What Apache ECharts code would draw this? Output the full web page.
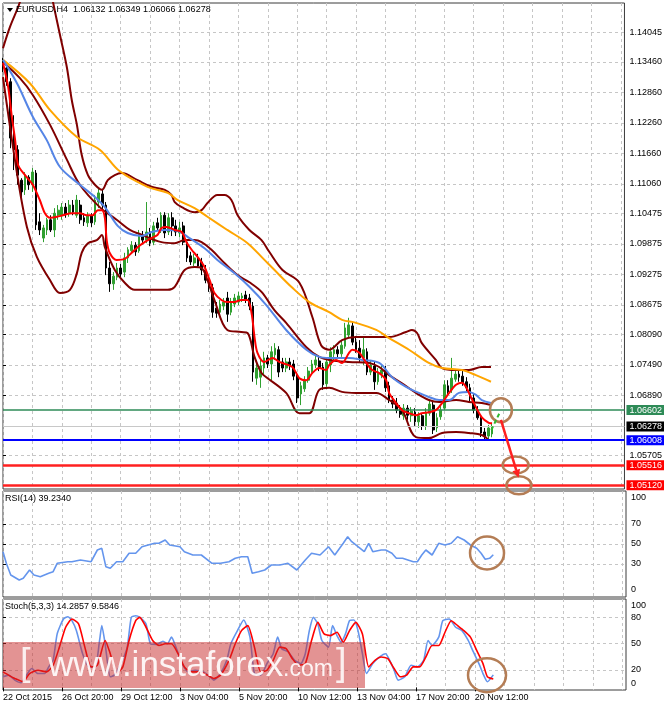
<!DOCTYPE html>
<html>
<head>
<meta charset="utf-8">
<script src="https://cdn.jsdelivr.net/npm/echarts@6.0.0/dist/echarts.min.js"></script>
<style>
  html, body { margin: 0; padding: 0; background: #fff; }
  #main { width: 665px; height: 705px; }
</style>
</head>
<body>
<div id="main"></div>
<script>
// H4 bars, 22 Oct 2015 04:00 onwards  [open, close, low, high]
var candles = [
  [1.1346,1.1334,1.1326,1.1354],[1.1334,1.1307,1.1299,1.1340],[1.1307,1.1196,1.1176,1.1314],[1.1196,1.1173,1.1133,1.1241],
  [1.1173,1.1123,1.1104,1.1182],[1.1113,1.1090,1.1070,1.1117],[1.1094,1.1123,1.1084,1.1129],[1.1119,1.1104,1.1094,1.1123],
  [1.1104,1.1129,1.1090,1.1137],[1.1127,1.1025,1.1015,1.1133],[1.1031,1.1015,1.1005,1.1048],[1.0999,1.1019,1.0991,1.1025],
  [1.1015,1.1035,1.1005,1.1039],[1.1035,1.1015,1.1011,1.1044],[1.1015,1.1048,1.1001,1.1058],[1.1044,1.1054,1.1035,1.1064],
  [1.1043,1.1060,1.1035,1.1068],[1.1060,1.1046,1.1039,1.1068],[1.1048,1.1064,1.1041,1.1074],[1.1064,1.1050,1.1044,1.1074],
  [1.1044,1.1074,1.1039,1.1084],[1.1064,1.1035,1.1027,1.1074],[1.1039,1.1031,1.1023,1.1048],[1.1029,1.1043,1.1021,1.1050],
  [1.1043,1.1029,1.1021,1.1048],[1.1031,1.1074,1.1025,1.1084],[1.1070,1.1088,1.1058,1.1098],[1.1086,1.1064,1.1054,1.1094],
  [1.1064,1.0940,1.0926,1.1070],[1.0940,1.0909,1.0893,1.0952],[1.0909,1.0924,1.0897,1.0932],[1.0922,1.0940,1.0916,1.0950],
  [1.0940,1.0928,1.0920,1.0948],[1.0932,1.0960,1.0922,1.0970],[1.0960,1.0976,1.0950,1.0981],[1.0974,1.0985,1.0968,1.0993],
  [1.0985,1.0972,1.0964,1.0991],[1.0974,1.1005,1.0970,1.1015],[1.1005,1.0995,1.0987,1.1013],[1.0995,1.1011,1.0989,1.1070],
  [1.1011,1.0989,1.0983,1.1019],[1.0991,1.1023,1.0985,1.1031],[1.1029,1.1019,1.1013,1.1039],[1.1015,1.1044,1.1009,1.1050],
  [1.1044,1.1009,1.0999,1.1050],[1.1011,1.1039,1.1005,1.1048],[1.1039,1.1023,1.1003,1.1050],[1.1023,1.1011,1.1003,1.1035],
  [1.1009,1.1019,1.1001,1.1031],[1.1023,1.0991,1.0985,1.1031],[1.0991,1.0960,1.0952,1.0995],[1.0964,1.0952,1.0946,1.0972],
  [1.0950,1.0960,1.0944,1.0968],[1.0960,1.0944,1.0940,1.0968],[1.0952,1.0936,1.0926,1.0960],[1.0936,1.0916,1.0910,1.0946],
  [1.0916,1.0901,1.0893,1.0924],[1.0901,1.0853,1.0842,1.0909],[1.0861,1.0851,1.0842,1.0873],[1.0853,1.0869,1.0847,1.0877],
  [1.0865,1.0873,1.0857,1.0881],[1.0881,1.0849,1.0834,1.0893],[1.0853,1.0873,1.0847,1.0881],[1.0869,1.0881,1.0863,1.0889],
  [1.0873,1.0885,1.0867,1.0893],[1.0881,1.0885,1.0873,1.0891],[1.0887,1.0877,1.0871,1.0895],[1.0881,1.0865,1.0857,1.0889],
  [1.0865,1.0735,1.0716,1.0873],[1.0723,1.0743,1.0710,1.0759],[1.0725,1.0747,1.0704,1.0759],[1.0743,1.0763,1.0731,1.0775],
  [1.0763,1.0751,1.0743,1.0769],[1.0751,1.0775,1.0719,1.0786],[1.0769,1.0782,1.0759,1.0792],[1.0779,1.0735,1.0725,1.0786],
  [1.0755,1.0743,1.0735,1.0763],[1.0743,1.0755,1.0735,1.0763],[1.0755,1.0749,1.0739,1.0763],[1.0751,1.0727,1.0719,1.0759],
  [1.0727,1.0684,1.0674,1.0735],[1.0692,1.0708,1.0670,1.0716],[1.0702,1.0719,1.0696,1.0727],[1.0719,1.0737,1.0714,1.0745],
  [1.0735,1.0751,1.0729,1.0759],[1.0749,1.0759,1.0743,1.0769],[1.0757,1.0743,1.0737,1.0765],[1.0745,1.0710,1.0700,1.0753],
  [1.0712,1.0755,1.0706,1.0763],[1.0749,1.0775,1.0735,1.0784],[1.0771,1.0779,1.0755,1.0788],[1.0779,1.0771,1.0763,1.0786],
  [1.0771,1.0788,1.0765,1.0798],[1.0786,1.0822,1.0781,1.0832],[1.0808,1.0828,1.0802,1.0842],[1.0826,1.0794,1.0788,1.0834],
  [1.0794,1.0779,1.0773,1.0806],[1.0782,1.0763,1.0755,1.0798],[1.0763,1.0779,1.0749,1.0804],[1.0775,1.0735,1.0729,1.0782],
  [1.0735,1.0749,1.0729,1.0759],[1.0747,1.0716,1.0700,1.0755],[1.0716,1.0735,1.0710,1.0743],[1.0731,1.0739,1.0723,1.0749],
  [1.0739,1.0704,1.0696,1.0747],[1.0708,1.0680,1.0674,1.0716],[1.0680,1.0672,1.0664,1.0688],[1.0674,1.0660,1.0654,1.0684],
  [1.0660,1.0652,1.0645,1.0670],[1.0649,1.0664,1.0641,1.0672],[1.0664,1.0650,1.0641,1.0670],[1.0649,1.0658,1.0637,1.0666],
  [1.0656,1.0637,1.0629,1.0664],[1.0637,1.0649,1.0625,1.0656],[1.0649,1.0629,1.0621,1.0654],[1.0629,1.0656,1.0621,1.0664],
  [1.0654,1.0672,1.0649,1.0680],[1.0670,1.0621,1.0613,1.0676],[1.0625,1.0645,1.0617,1.0654],[1.0647,1.0660,1.0641,1.0670],
  [1.0664,1.0710,1.0660,1.0719],[1.0708,1.0696,1.0688,1.0719],[1.0700,1.0723,1.0694,1.0763],[1.0721,1.0731,1.0716,1.0739],
  [1.0731,1.0725,1.0716,1.0739],[1.0727,1.0714,1.0708,1.0739],[1.0716,1.0704,1.0696,1.0725],[1.0704,1.0684,1.0676,1.0712],
  [1.0684,1.0660,1.0654,1.0694],[1.0660,1.0645,1.0641,1.0668],[1.0645,1.0615,1.0607,1.0650],[1.0617,1.0609,1.0601,1.0625],
  [1.0609,1.0625,1.0603,1.0631],[1.06132,1.06278,1.06066,1.06349]
];

// indicator lines, [bar index, value]
var maFast = [[0,1.1344],[1.4,1.1297],[2.4,1.1238],[3.3,1.1192],[4.1,1.1143],[6,1.1123],[8.1,1.1104],[10,1.1074],[11.4,1.1048],[12.8,1.1039],[14.7,1.1041],[16.3,1.1044],[18.7,1.1048],[20.9,1.1048],[22.8,1.1044],[24.4,1.1044],[25.8,1.1054],[26.9,1.1054],[27.7,1.1039],[28.2,1.0995],[29,1.0970],[30.9,1.0956],[33.1,1.0958],[35,1.0970],[36.6,1.0981],[38.5,1.0991],[40.4,1.0999],[42,1.1005],[43.1,1.1019],[44.5,1.1021],[46.7,1.1015],[48.6,1.1011],[49.9,1.0991],[51.3,1.0976],[52.9,1.0962],[54.8,1.0942],[56.2,1.0916],[57.5,1.0891],[59.4,1.0877],[61,1.0873],[62.9,1.0873],[64.8,1.0877],[66.5,1.0877],[67.6,1.0851],[68.4,1.0804],[69.2,1.0773],[71.1,1.0755],[73.3,1.0763],[75.1,1.0755],[78.7,1.0745],[80.6,1.0723],[82.5,1.0719],[84.1,1.0733],[86,1.0743],[87.9,1.0739],[88.7,1.0749],[90.6,1.0759],[92.2,1.0753],[94.1,1.0773],[95,1.0779],[96.9,1.0773],[98.8,1.0753],[100.4,1.0739],[102.3,1.0733],[104.2,1.0719],[105,1.0694],[106.9,1.0674],[108.5,1.0660],[110.4,1.0654],[112.3,1.0650],[113.9,1.0654],[115.8,1.0656],[117.7,1.0660],[119.4,1.0674],[121.3,1.0694],[123.2,1.0710],[124.8,1.0714],[125.9,1.0706],[126.7,1.0694],[128.6,1.0666],[130.2,1.0646],[132.1,1.0635],[133,1.0634]];
var maBlue = [[0,1.1350],[3.8,1.1304],[8.1,1.1238],[11.9,1.1192],[15.5,1.1139],[20.9,1.1104],[25,1.1080],[27.7,1.1060],[31.2,1.1023],[33.9,1.1009],[37.7,1.1003],[40.4,1.1011],[44,1.1015],[47.5,1.1013],[50.7,1.0999],[54.8,1.0979],[58.3,1.0956],[62.9,1.0930],[67,1.0903],[71.6,1.0867],[77,1.0818],[82.5,1.0779],[86,1.0765],[88.7,1.0763],[94.1,1.0763],[97.7,1.0759],[102.3,1.0753],[105.8,1.0725],[109.6,1.0706],[113.1,1.0694],[115.8,1.0686],[118.6,1.0680],[121.3,1.0680],[124,1.0694],[126.7,1.0696],[128.6,1.0690],[130.2,1.0680],[132.7,1.0674]];
var maSlow = [[0,1.1350],[7.3,1.1304],[12.8,1.1251],[20.1,1.1198],[26.3,1.1173],[31.7,1.1131],[39.3,1.1100],[44.8,1.1088],[47.5,1.1074],[52.1,1.1058],[55.6,1.1041],[61,1.1015],[66.5,1.0989],[71.1,1.0956],[73.3,1.0940],[78.7,1.0901],[83.3,1.0873],[88.7,1.0853],[92.2,1.0838],[96,1.0832],[101.5,1.0818],[105,1.0802],[110.4,1.0779],[115.8,1.0753],[119.4,1.0743],[124.8,1.0739],[128.6,1.0729],[132.7,1.0716]];
var bbUp = [[0,1.1373],[1.9,1.1415],[4.6,1.1464],[7.3,1.1537],[9.5,1.1563],[11.7,1.1537],[13.6,1.1464],[15.5,1.1399],[17.4,1.1334],[18.7,1.1271],[20.1,1.1222],[21.4,1.1163],[23.1,1.1123],[25,1.1104],[26.9,1.1094],[28.5,1.1113],[30.4,1.1123],[32.3,1.1127],[36.6,1.1113],[40.4,1.1100],[44,1.1094],[45.8,1.1084],[46.7,1.1070],[48.6,1.1060],[52.1,1.1050],[54,1.1054],[55.6,1.1068],[58.3,1.1084],[60.2,1.1084],[62.1,1.1074],[63.8,1.1044],[67,1.1015],[70.3,1.0995],[72.4,1.0972],[76,1.0936],[80.6,1.0911],[84.1,1.0844],[86.5,1.0788],[88.7,1.0779],[92.2,1.0798],[96,1.0804],[105,1.0804],[109.6,1.0814],[111.2,1.0818],[112.6,1.0812],[113.9,1.0792],[117.7,1.0759],[119.4,1.0743],[123.2,1.0739],[126.7,1.0739],[130.2,1.0745],[132.7,1.0745]];
var bbMid = [[0,1.1346],[4.6,1.1314],[8.1,1.1281],[12.8,1.1222],[17.4,1.1153],[20.9,1.1104],[26.3,1.1060],[30.9,1.1035],[34.5,1.1015],[37.2,1.1007],[43.1,1.0991],[46.7,1.0989],[49.4,1.0995],[52.1,1.0995],[54,1.0991],[56.7,1.0976],[60.2,1.0950],[63.8,1.0926],[67,1.0912],[70.3,1.0893],[73.8,1.0857],[77,1.0832],[82.5,1.0784],[86,1.0765],[88.7,1.0759],[94.1,1.0755],[99.6,1.0753],[102.3,1.0745],[105,1.0729],[108.5,1.0713],[112.3,1.0694],[115.8,1.0680],[118.6,1.0676],[123.2,1.0680],[126.7,1.0676],[130.2,1.0674],[132.7,1.0670]];
var bbLow = [[0,1.1316],[3.8,1.1127],[6.5,1.1021],[9.2,1.0962],[12.8,1.0916],[15.5,1.0891],[18.2,1.0897],[20.1,1.0930],[21.4,1.0970],[23.1,1.0989],[25.5,1.0995],[26.9,1.1005],[27.7,1.0981],[30.4,1.0936],[33.1,1.0911],[35.8,1.0897],[44.8,1.0897],[46.7,1.0903],[49.4,1.0936],[52.1,1.0942],[54,1.0940],[55.6,1.0916],[57.5,1.0877],[61,1.0818],[64.8,1.0814],[66.5,1.0812],[68.4,1.0765],[70.3,1.0733],[71.6,1.0725],[77,1.0694],[80.6,1.0654],[83.3,1.0654],[86,1.0700],[88.7,1.0704],[92.2,1.0696],[96,1.0694],[101.5,1.0694],[105,1.0680],[108.5,1.0660],[112.3,1.0607],[115.8,1.0605],[119.4,1.0615],[123.2,1.0617],[126.7,1.0615],[130.2,1.0611],[132.1,1.0601]];

var rsi = [[0,42.3],[0.9,30.7],[2.1,19],[4.4,14],[5.5,15.7],[7.2,24],[8.4,19],[10.1,17.3],[12.4,20.7],[13.6,22.3],[14.7,30.7],[17.6,32.3],[18.7,32.3],[21,34],[23.9,32.3],[25.6,44],[26.8,45.7],[27.9,27.3],[29.1,25.7],[30.8,32.3],[32.5,32.3],[34.2,40.7],[36,40.7],[37.7,47.3],[39.4,49],[41.1,50.7],[42.3,50.7],[44,54],[45.2,49],[48,47.3],[49.2,42.3],[51.5,39],[53.8,39],[56.7,30.7],[59,30.7],[61.3,32.3],[63,35.7],[64.7,37.3],[66.4,37.3],[67.6,20.7],[69.3,22.3],[71,24],[72.8,29],[75.1,29],[77.3,30.7],[79.7,24],[82,34],[83.7,40.7],[86,39],[88.3,47.3],[90,39],[92.3,50.7],[93.5,57.3],[94.6,52.3],[96.9,45.7],[98,42.3],[99.2,50.7],[100.3,42.3],[102.6,44],[103.8,44],[105.5,40.7],[106.7,35.7],[108.4,35.7],[111.3,32.3],[112.4,32.3],[113.6,39],[114.7,44],[116.4,39],[118.2,50.7],[119.9,49],[121.6,50.7],[123.3,57.3],[125.1,54],[126.8,49],[128.5,45.7],[129.7,40.7],[130.8,34.7],[132,35.7],[133,39.2340]];
var stochK = [[0,12.1],[1.5,14],[3.2,8.3],[4.9,5.3],[6.1,12.1],[7.8,21.5],[9.5,15.8],[11.3,15.8],[12.4,23.4],[13.6,30.9],[14.7,61.1],[16.4,78.1],[17.6,80.8],[18.7,76.2],[19.9,64.9],[21.6,38.5],[23.3,23.4],[25,23.4],[26.2,53.6],[26.8,70.6],[27.7,49.8],[29.1,12.1],[30.2,14],[32,27.2],[33.7,46],[34.8,80],[36,81.9],[37.1,80],[38.8,72.5],[40,49.8],[41.7,49.1],[43.4,52.8],[44.6,49.8],[45.7,57.4],[46.9,46],[48.6,27.2],[50.3,17.7],[52.1,19.6],[54.4,17.7],[56.1,12.1],[57.2,8.3],[59,15.8],[60.7,30.9],[61.8,49.8],[63.6,64.9],[65.3,77],[67,57.4],[68.2,15.8],[69.9,14],[71.6,27.2],[73.3,38.5],[74.5,57.4],[75.6,44.2],[77.4,40.4],[79.1,30.9],[80.8,27.2],[82,38.5],[83.1,64.9],[84.2,80],[85.4,72.5],[86.5,53.6],[88.3,46],[89.4,70.6],[90.6,59.2],[91.7,51.7],[92.9,61.1],[94,76.2],[95.2,77],[96.3,64.9],[97.5,38.5],[98.6,15.8],[100.3,27.2],[102.1,34.7],[103.8,38.5],[104.9,30.9],[106.1,19.6],[107.2,8.3],[109,12.1],[110.7,25.3],[112.4,23.4],[114.1,30.9],[115.3,53.6],[116.4,47.9],[118.2,57.4],[119.3,76.2],[121,78.1],[122.8,68.7],[124.5,64.9],[126.2,53.6],[127.4,42.3],[129.1,27.2],[130.2,15.8],[131.4,6.4],[133,14.2857]];
var stochD = [[0,17.7],[1.5,14],[3.2,10.2],[5.5,6.4],[7.2,15.8],[9.5,19.6],[11.8,17.7],[13.6,25.3],[15.3,46],[17,68.7],[18.7,78.1],[20.5,72.5],[22.2,46],[23.9,23.4],[25.6,25.3],[27.7,53.6],[29.1,38.5],[30.8,15.8],[32.5,23.4],[34.2,53.6],[36,76.2],[37.1,80],[38.8,68.7],[40.6,53.6],[42.3,47.9],[44,49.8],[45.7,49.8],[47.5,38.5],[49.2,23.4],[50.9,17.7],[53.2,17.7],[55.5,14],[57.2,10.2],[59,14],[61.3,30.9],[63,49.8],[64.7,64.9],[66.4,70.6],[68.2,46],[69.9,17.7],[71.6,19.6],[73.3,30.9],[75.1,46],[76.8,44.2],[78.5,32.8],[80.2,25.3],[82,27.2],[83.7,53.6],[85.4,74.3],[87.1,61.1],[88.8,59.2],[90.6,63],[92.3,51.7],[94,64.9],[95.7,74.3],[97.5,61.1],[99.2,23.4],[100.9,30.9],[102.6,34.7],[104.4,32.8],[106.1,21.5],[107.8,12.1],[109.5,14],[111.3,23.4],[113,23.4],[114.7,34.7],[116.4,47.9],[118.2,47.9],[119.9,63],[121.6,76.2],[123.3,70.6],[125,64.9],[126.8,57.4],[128.5,42.3],[130.2,27.2],[131.4,12.1],[133,9.5846]];

// tick labels
var xLabels = ['22 Oct 2015','26 Oct 20:00','29 Oct 12:00','3 Nov 04:00','5 Nov 20:00','10 Nov 12:00','13 Nov 04:00','17 Nov 20:00','20 Nov 12:00'];
var priceGrid = [1.14045,1.1346,1.1286,1.1226,1.1166,1.1106,1.10475,1.09875,1.09275,1.08675,1.0809,1.0749,1.0689,1.0629,1.05705];
var priceTicks = [1.14045,1.1346,1.1286,1.1226,1.1166,1.1106,1.10475,1.09875,1.09275,1.08675,1.0809,1.0749,1.0689,1.05705];
var rsiTicks = [0,30,50,70,100];
var stochTicks = [0,20,50,80,100];

// horizontal levels and drawn annotations
var levels = [1.06602, 1.06278, 1.06008, 1.05516, 1.05120];
var rings = [[135.4,1.0660],[139.4,1.0552],[140.3,1.0512]];
var arrowPts = [[135.4,1.0641],[140.2,1.0527]];
var dashPts = [[132.8,1.0621],[135.2,1.0657]];
var rsiRing = [131.3,41];
var stochRing = [131.3,14];

var FONT = 'Liberation Sans, Arial, sans-serif';
var SLOTS = 170;
var cats = [];
for (var i = 0; i < SLOTS; i++) cats.push(String(i));

var levelLine = ['#2e8b57','#c8c8c8','#0000ff','#ff2020','#ff2020'];
var levelWidth = [1.5, 1, 2, 2.5, 2.5];
var levelBox = ['#2e8b57','#000000','#0000ff','#ff0000','#ff0000'];

var dash = { show: true, lineStyle: { color: '#c6c6c6', type: [3, 3], width: 1 } };

function gridBox(top, height) {
  return { left: 3, right: 39, top: top, height: height, show: true, borderColor: '#3a3a3a', borderWidth: 1 };
}
function catAxis(gi, bottom) {
  return {
    type: 'category', gridIndex: gi, data: cats, boundaryGap: false,
    axisLine: { show: false },
    axisTick: { show: bottom, length: 4, lineStyle: { color: '#000' },
      interval: function (idx) { return idx % 16 === 0 && idx / 16 < xLabels.length; } },
    axisLabel: { show: bottom, align: 'left', margin: 3, fontSize: 9, color: '#000', fontFamily: FONT,
      interval: function (idx) { return idx % 16 === 0 && idx / 16 < xLabels.length; },
      formatter: function (v, idx) { return xLabels[idx / 16] || ''; } },
    splitLine: { show: true, interval: 7, lineStyle: dash.lineStyle }
  };
}
function valAxis(gi) {
  return { type: 'value', gridIndex: gi, min: 0, max: SLOTS - 1, show: false };
}
// edge labels are pushed inside the pane like the terminal does
var edgeRich = { lo: { padding: [0, 0, 8, 0] }, hi: { padding: [7, 0, 0, 0] }, hi2: { padding: [11, 0, 0, 0] } };
function yAxis(gi, min, max, grid, labels, fmt) {
  return {
    type: 'value', gridIndex: gi, position: 'right', min: min, max: max,
    axisLine: { show: false },
    axisTick: { show: true, length: 3, customValues: grid, lineStyle: { color: '#000' } },
    axisLabel: { customValues: labels, fontSize: 9, color: '#000', margin: 5, fontFamily: FONT, formatter: fmt, rich: edgeRich },
    splitLine: dash
  };
}
function line(id, data, xi, yi, color, width, smooth, z) {
  return { id: id, type: 'line', xAxisIndex: xi, yAxisIndex: yi, data: data, showSymbol: false,
    smooth: smooth, lineStyle: { color: color, width: width }, itemStyle: { color: color }, z: z, silent: true };
}

var chart = echarts.init(document.getElementById('main'));
chart.setOption({
  animation: false,
  backgroundColor: '#ffffff',
  grid: [gridBox(3, 486), gridBox(491, 106), gridBox(599, 91)],
  xAxis: [catAxis(0, false), valAxis(0), catAxis(1, false), valAxis(1), catAxis(2, true), valAxis(2)],
  yAxis: [
    yAxis(0, 1.05047, 1.14621, priceGrid, priceTicks, function (v) { return v.toFixed(5); }),
    yAxis(1, -3, 103, [30, 50, 70], rsiTicks, function (v) {
      return v === 0 ? '{lo|0}' : v === 100 ? '{hi|100}' : String(v); }),
    yAxis(2, -3, 101, [20, 50, 80], stochTicks, function (v) {
      return v === 0 ? '{lo|0}' : v === 100 ? '{hi2|100}' : String(v); })
  ],
  series: [
    {
      type: 'candlestick', xAxisIndex: 0, yAxisIndex: 0, data: candles, barWidth: 2.2, clip: false, z: 2,
      itemStyle: { color: '#30a030', color0: '#000000', borderColor: '#30a030', borderColor0: '#000000', borderWidth: 1 },
      markLine: {
        silent: true, symbol: ['none', 'none'], animation: false, precision: 5,
        data: levels.map(function (v, i) {
          return {
            yAxis: v,
            lineStyle: { color: levelLine[i], width: levelWidth[i], type: 'solid' },
            label: { show: true, position: 'end', distance: 2, formatter: v.toFixed(5), color: '#fff',
              backgroundColor: levelBox[i], padding: [1, 2, 0, 3], fontSize: 9, fontFamily: FONT }
          };
        })
      }
    },
    line('bbUp', bbUp, 1, 0, '#800000', 2, 0.35, 3),
    line('bbMid', bbMid, 1, 0, '#800000', 2, 0.35, 3),
    line('bbLow', bbLow, 1, 0, '#800000', 2, 0.35, 3),
    line('maSlow', maSlow, 1, 0, '#ffa500', 2, 0.35, 4),
    line('maBlue', maBlue, 1, 0, '#5585e6', 2, 0.35, 4),
    line('maFast', maFast, 1, 0, '#ff0000', 2, 0.3, 5),
    line('rsi', rsi, 3, 1, '#6495ed', 1.6, false, 3),
    line('stochK', stochK, 5, 2, '#6495ed', 1.6, 0.2, 3),
    line('stochD', stochD, 5, 2, '#ff0000', 1.6, 0.2, 4)
  ]
});

// drawn objects and captions
function px(id, pt) { return chart.convertToPixel({ seriesId: id }, pt); }
var ringSize = [[11, 12], [13, 8.5], [12.5, 9]];
var brown = '#b47d55';
var g = [];
rings.forEach(function (r, i) {
  var c = px('bbUp', r);
  g.push({ type: 'ellipse', z: 100, shape: { cx: c[0], cy: c[1], rx: ringSize[i][0], ry: ringSize[i][1] },
    style: { fill: 'none', stroke: brown, lineWidth: 2.5 } });
});
var rc = px('rsi', rsiRing);
g.push({ type: 'ellipse', z: 100, shape: { cx: rc[0], cy: rc[1], rx: 17, ry: 16.5 }, style: { fill: 'none', stroke: brown, lineWidth: 2.5 } });
var sc = px('stochK', stochRing);
g.push({ type: 'ellipse', z: 100, shape: { cx: sc[0], cy: sc[1], rx: 19, ry: 17 }, style: { fill: 'none', stroke: brown, lineWidth: 2.5 } });

var a0 = px('bbUp', arrowPts[0]), a1 = px('bbUp', arrowPts[1]);
var ang = Math.atan2(a1[1] - a0[1], a1[0] - a0[0]);
var back = [a1[0] - 8 * Math.cos(ang), a1[1] - 8 * Math.sin(ang)];
g.push({ type: 'line', z: 101, shape: { x1: a0[0], y1: a0[1], x2: back[0], y2: back[1] }, style: { stroke: '#ff2020', lineWidth: 2.5 } });
g.push({ type: 'polygon', z: 101, shape: { points: [a1,
  [back[0] + 4 * Math.sin(ang), back[1] - 4 * Math.cos(ang)],
  [back[0] - 4 * Math.sin(ang), back[1] + 4 * Math.cos(ang)]] }, style: { fill: '#ff2020' } });

var d0 = px('bbUp', dashPts[0]), d1 = px('bbUp', dashPts[1]);
g.push({ type: 'line', z: 101, shape: { x1: d0[0], y1: d0[1], x2: d1[0], y2: d1[1] }, style: { stroke: '#2db82d', lineWidth: 2, lineDash: [4, 3] } });

var last = candles[candles.length - 1];
g.push({ type: 'polygon', z: 100, shape: { points: [[7, 8], [13, 8], [10, 12]] }, style: { fill: '#000' } });
g.push({ type: 'text', z: 100, x: 16, y: 10, style: { text: 'EURUSD,H4  ' + [last[0], last[3], last[2], last[1]].map(function (v) { return v.toFixed(5); }).join(' '),
  fill: '#000', font: '9px ' + FONT, verticalAlign: 'middle' } });
g.push({ type: 'text', z: 100, x: 5, y: 499, style: { text: 'RSI(14) ' + rsi[rsi.length - 1][1].toFixed(4), fill: '#000', font: '9px ' + FONT, verticalAlign: 'middle' } });
g.push({ type: 'text', z: 100, x: 5, y: 607, style: { text: 'Stoch(5,3,3) ' + stochK[stochK.length - 1][1].toFixed(4) + ' ' + stochD[stochD.length - 1][1].toFixed(4),
  fill: '#000', font: '9px ' + FONT, verticalAlign: 'middle' } });

// watermark
g.push({ type: 'rect', z: 200, shape: { x: 3, y: 642, width: 362, height: 46 }, style: { fill: 'rgba(200,40,40,0.5)' } });
g.push({ type: 'text', z: 201, x: 20, y: 684, style: { text: '[', fill: 'rgba(255,255,255,0.85)', font: '38px ' + FONT, verticalAlign: 'bottom' } });
g.push({ type: 'text', z: 201, x: 48, y: 684, style: { text: 'www.instaforex', fill: 'rgba(255,255,255,0.9)', font: '35px ' + FONT, verticalAlign: 'bottom' } });
g.push({ type: 'text', z: 201, x: 283, y: 681, style: { text: '.com', fill: 'rgba(255,255,255,0.9)', font: '23px ' + FONT, verticalAlign: 'bottom' } });
g.push({ type: 'text', z: 201, x: 336, y: 684, style: { text: ']', fill: 'rgba(255,255,255,0.85)', font: '38px ' + FONT, verticalAlign: 'bottom' } });

chart.setOption({ graphic: g });
</script>
</body>
</html>
